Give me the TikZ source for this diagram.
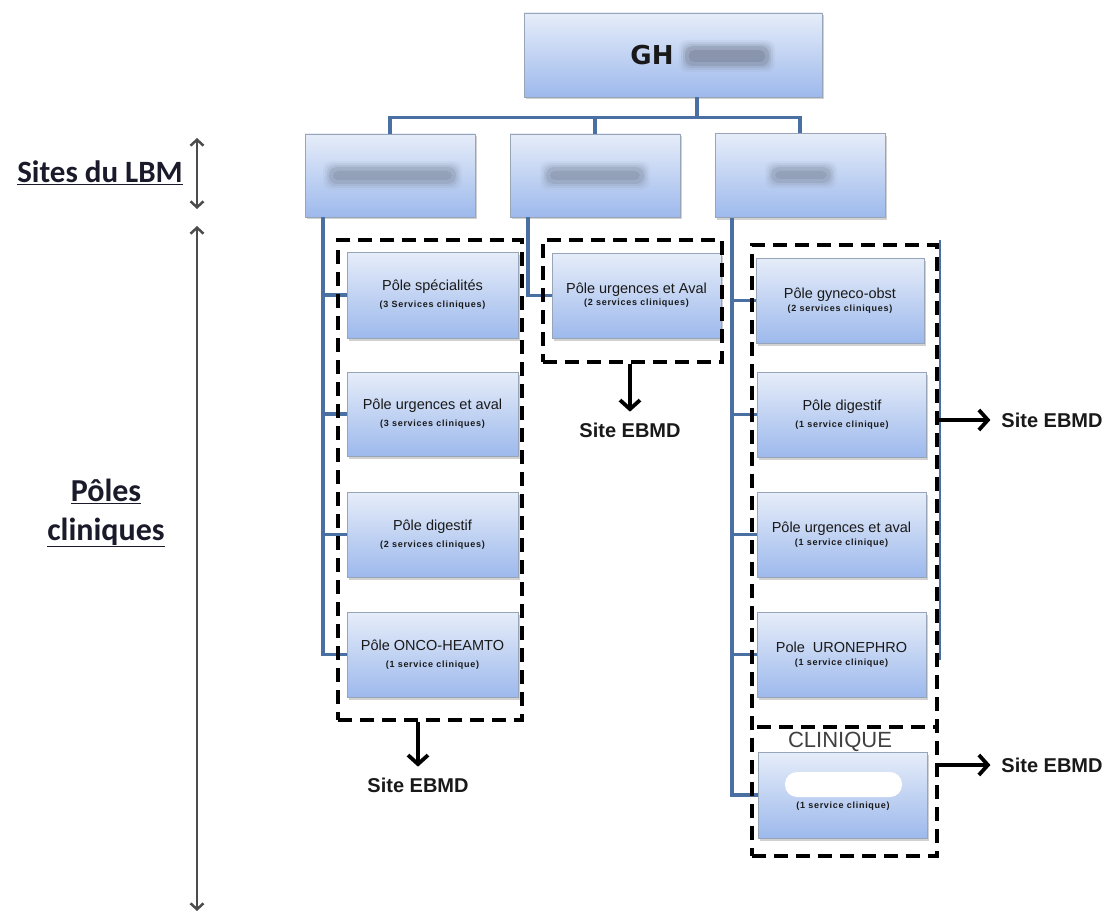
\documentclass[tikz,border=0pt]{standalone}
\usepackage{fontspec}
\setmainfont{Liberation Sans}
\newfontfamily\calib{Carlito}
\newfontfamily\dejab{DejaVu Sans}
\newfontfamily\subfam[LetterSpace=8]{Liberation Sans}
\usetikzlibrary{arrows.meta,shadows}
\definecolor{connc}{HTML}{4A6FA3}
\definecolor{boxtop}{HTML}{E6EDF9}
\definecolor{boxbot}{HTML}{9DB9EC}
\definecolor{boxline}{HTML}{98A4B8}
\definecolor{blobc}{HTML}{7A8599}
\definecolor{ghblob}{HTML}{6A7386}
\definecolor{labc}{HTML}{1A1A2A}
\newcommand{\mainf}{\fontsize{14.5}{16}\selectfont}
\newcommand{\subf}{\subfam\bfseries\fontsize{9}{16}\selectfont}
\newcommand{\blurblob}[5]{%
  \foreach \d/\o in {7/0.06,5/0.1,3/0.16,1/0.25}{%
    \fill[#1,opacity=\o,rounded corners=8pt] (#2-\d,#3-\d) rectangle (#4+\d,#5+\d);}%
  \fill[#1,opacity=0.3,rounded corners=5pt] (#2+3,#3+3) rectangle (#4-3,#5-3);}
\begin{document}
\begin{tikzpicture}[x=1pt,y=-1pt,
  pbox/.style={draw=boxline, line width=0.8pt, top color=boxtop, bottom color=boxbot,
    drop shadow={shadow xshift=1.5pt,shadow yshift=-2.5pt,opacity=0.3,fill=black!60},
    inner sep=0pt, align=center, text=black!90},
  conn/.style={draw=connc, line width=3.5pt},
  dbox/.style={draw=black, line width=3.6pt, dash pattern=on 14pt off 8pt, inner sep=0pt},
  bigarrow/.style={line width=3.8pt, -{Straight Barb[length=9pt,width=20pt]}},
  ebmd/.style={font=\bfseries\fontsize{20}{22}\selectfont, inner sep=2pt, outer sep=9pt, text=black!90},
  axis/.style={draw=black!70, line width=2.5pt, {Straight Barb[length=6pt,width=13pt]}-{Straight Barb[length=6pt,width=13pt]}},
]
\useasboundingbox (0,0) rectangle (1112,915);

% top box
\node[pbox, minimum width=298pt, minimum height=84pt] (GH) at (673,55) {};
\node[font=\dejab\bfseries\fontsize{26}{28}\selectfont, text=black!90] (ghtxt) at (652,55) {GH};
\blurblob{ghblob}{686}{47}{768}{65}

% sites
\node[pbox, minimum width=170pt, minimum height=83pt] (SL) at (390,175.5) {};
\node[pbox, minimum width=170pt, minimum height=83pt] (SM) at (595,175.5) {};
\node[pbox, minimum width=170pt, minimum height=84pt] (SR) at (800,175.5) {};
\blurblob{blobc}{330}{168}{455}{183}
\blurblob{blobc}{547}{168}{643}{183}
\blurblob{blobc}{772}{168}{830}{182}

% left column
\node[pbox, minimum width=171pt, minimum height=86pt] (L1) at (432.5,295) {\mainf Pôle spécialités\\[5pt]\subf (3 Services cliniques)};
\node[pbox, minimum width=171pt, minimum height=84pt] (L2) at (432.5,414) {\mainf Pôle urgences et aval\\[5pt]\subf (3 services cliniques)};
\node[pbox, minimum width=171pt, minimum height=85pt] (L3) at (432.5,534.5) {\mainf Pôle digestif\\[5pt]\subf (2 services cliniques)};
\node[pbox, minimum width=171pt, minimum height=85pt] (L4) at (432.5,654.5) {\mainf Pôle ONCO-HEAMTO\\[5pt]\subf (1 service clinique)};

% middle column
\node[pbox, minimum width=169pt, minimum height=85pt] (M1) at (636.5,295.5) {\mainf Pôle urgences et Aval\\[0pt]\subf (2 services cliniques)};

% right column
\node[pbox, minimum width=168pt, minimum height=85pt] (R1) at (840,300.5) {\mainf Pôle gyneco-obst\\[1pt]\subf (2 services cliniques)};
\node[pbox, minimum width=169pt, minimum height=85pt] (R2) at (842,414.5) {\mainf Pôle digestif\\[5pt]\subf (1 service clinique)};
\node[pbox, minimum width=169pt, minimum height=85pt] (R3) at (841.5,534.5) {\mainf Pôle urgences et aval\\[1pt]\subf (1 service clinique)};
\node[pbox, minimum width=169pt, minimum height=85pt] (R4) at (841.5,654.5) {\mainf Pole \ URONEPHRO\\[1pt]\subf (1 service clinique)};
\node[pbox, minimum width=169pt, minimum height=86pt] (R5) at (843,795) {\mainf\strut\\[5pt]\subf (1 service clinique)};
\fill[white, rounded corners=12pt] (785,772) rectangle (902,797);

% connectors
\draw[conn] ([xshift=24pt]GH.south) -- ++(0,20) coordinate (bus);
\draw[conn] (bus) -| (SL.north);
\draw[conn] (bus) -| (SM.north);
\draw[conn] (bus) -| (SR.north);
\foreach \b in {L1,L2,L3,L4}{\draw[conn] ([xshift=-67pt]SL.south) |- (\b.west);}
\draw[conn] ([xshift=-67pt]SM.south) |- (M1.west);
\foreach \b in {R1,R2,R3,R4,R5}{\draw[conn] ([xshift=-68pt]SR.south) |- (\b.west);}
\draw[connc, line width=2pt] (940,240) -- (940,660);

% dashed groups
\node[dbox, minimum width=184pt, minimum height=480pt] (DL) at (430,480) {};
\node[dbox, minimum width=179pt, minimum height=122pt] (DM) at (632.5,301) {};
\node[dbox, minimum width=185pt, minimum height=611pt] (DR) at (844.5,550.5) {};
\draw[draw=black, line width=3.6pt, dash pattern=on 14pt off 8pt] (757,727) -- (935,727);
\node[font=\fontsize{22}{24}\selectfont, text=black!75] (cliq) at (840,742) {CLINIQUE};

% Site EBMD labels
\node[ebmd] (EL) at (418,785) {Site EBMD};
\node[ebmd] (EM) at (630,430) {Site EBMD};
\node[ebmd] (ER1) at (1052,420) {Site EBMD};
\node[ebmd] (ER2) at (1052,765) {Site EBMD};
\draw[bigarrow] (DL.south -| EL.north) -- (EL.north);
\draw[bigarrow] (DM.south -| EM.north) -- (EM.north);
\draw[bigarrow] (DR.east |- ER1.west) -- (ER1.west);
\draw[bigarrow] (DR.east |- ER2.west) -- (ER2.west);

% left axis
\node[font=\calib\bfseries\fontsize{31}{37}\selectfont, text=labc, anchor=base] (lbm) at (100,183) {\underline{Sites du LBM}};
\node[font=\calib\bfseries\fontsize{32}{39}\selectfont, text=labc, align=center] (poles) at (106,513) {\underline{Pôles}\\\underline{cliniques}};
\coordinate (s1) at (197,138);
\coordinate (s2) at (197,209);
\draw[axis] (s1) -- (s2);
\coordinate (p1) at (197,226);
\coordinate (p2) at (197,911);
\draw[axis] (p1) -- (p2);
\end{tikzpicture}
\end{document}
